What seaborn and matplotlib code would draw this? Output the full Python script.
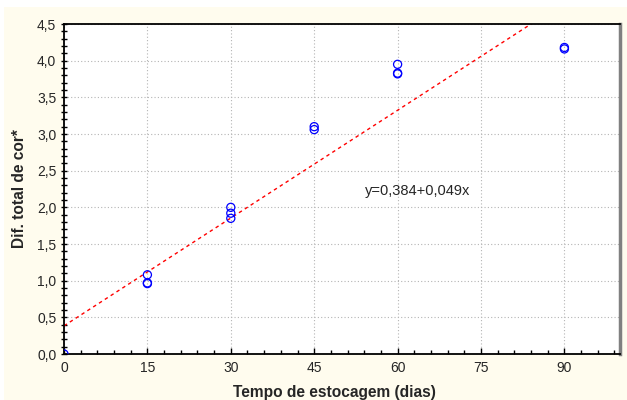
import numpy as np
import pandas as pd
import matplotlib
matplotlib.use("Agg")
import matplotlib.pyplot as plt
from matplotlib.patches import Rectangle
from matplotlib.ticker import FuncFormatter, MultipleLocator
import seaborn as sns

# Storage time (days) and total colour difference replicates
dias = [0, 15, 15, 15, 30, 30, 30, 45, 45, 60, 60, 60, 90, 90]
dif_cor = [0.0, 1.08, 0.97, 0.96, 2.00, 1.92, 1.85, 3.10, 3.06, 3.95, 3.83, 3.82, 4.18, 4.16]

# Fitted linear model
intercepto = 0.384
inclinacao = 0.049
equacao = "y=0,384+0,049x"

x_ticks = [0, 15, 30, 45, 60, 75, 90]
y_ticks = [0.0, 0.5, 1.0, 1.5, 2.0, 2.5, 3.0, 3.5, 4.0, 4.5]

sns.set_style("white")
plt.rcParams["font.family"] = ["Liberation Sans", "DejaVu Sans"]

fig = plt.figure(figsize=(6.27, 4.0), dpi=100, facecolor="white")
fundo = Rectangle((4 / 627, 0), 1, (400 - 7) / 400, transform=fig.transFigure,
                  facecolor="#fffcee", edgecolor="none", zorder=-10)
fig.add_artist(fundo)
ax = fig.add_axes([64 / 627, 46 / 400, (620 - 64) / 627, (354 - 24) / 400])
ax.set_facecolor("white")
ax.set_zorder(1)

df = pd.DataFrame({"dias": dias, "dif": dif_cor})

# regression line
xs = np.array([0, 100])
ax.plot(xs, intercepto + inclinacao * xs, color="#ff0000", lw=1.0,
        linestyle=(0, (2.5, 2.5)), zorder=2)

sns.scatterplot(data=df, x="dias", y="dif", ax=ax, marker="o", s=34,
                facecolor="none", edgecolor="#0000ff", linewidth=0.9, zorder=3)

ax.set_xlim(0, 100)
ax.set_ylim(0, 4.5)
ax.set_xticks(x_ticks)
ax.set_yticks(y_ticks)
ax.xaxis.set_minor_locator(MultipleLocator(3))
ax.yaxis.set_minor_locator(MultipleLocator(0.1))
ax.yaxis.set_major_formatter(FuncFormatter(lambda v, p: f"{v:.1f}".replace(".", ",")))

ax.grid(True, which="major", color="#b4b4b4", linestyle=(0, (1, 2)), linewidth=0.8)
ax.set_axisbelow(True)

ax.tick_params(axis="x", which="major", direction="in", length=4, width=1, color="black",
               labelsize=10, pad=5, bottom=True, top=False)
ax.tick_params(axis="x", which="minor", direction="in", length=3, width=1, color="black",
               bottom=True, top=False)
ax.tick_params(axis="y", which="major", direction="inout", length=5, width=1, color="black",
               labelsize=10, pad=3, left=True, right=False)
ax.tick_params(axis="y", which="minor", direction="inout", length=4, width=1, color="black",
               left=True, right=False)

for side in ["left", "bottom", "top"]:
    ax.spines[side].set_color("black")
    ax.spines[side].set_linewidth(1.3)
ax.spines["right"].set_color("#808080")
ax.spines["right"].set_linewidth(2.5)

ax.set_xlabel("Tempo de estocagem (dias)", fontsize=11.2, fontweight="bold", labelpad=7)
ax.set_ylabel("Dif. total de cor*", fontsize=11.2, fontweight="bold", labelpad=7)
ax.xaxis.set_label_coords(0.486, -0.095)

ax.text(54.2, 2.22, equacao, fontsize=10.5, va="center", ha="left")

fig.savefig("out.png", dpi=100, facecolor=fig.get_facecolor())
